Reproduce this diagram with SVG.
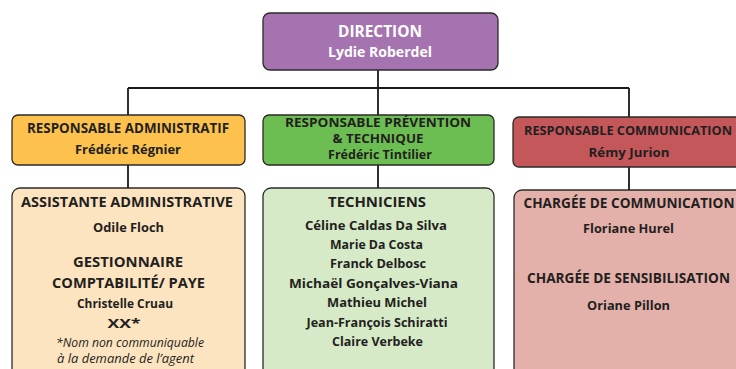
<svg xmlns="http://www.w3.org/2000/svg" width="736" height="369" viewBox="0 0 736 369">
<style>
.box{stroke:#2b2a29;stroke-width:1.3}
.conn{stroke:#1a1a1a;stroke-width:1.8;fill:none}
text{font-family:"Open Sans","Liberation Sans",sans-serif;font-weight:700;fill:#231f20;text-anchor:middle}
.w{fill:#ffffff}
.h{font-size:13.5px}
.s{font-size:12px}
.n{font-size:13px}
.g{font-size:15px}
.i{font-style:italic;font-weight:400;font-size:12px}
</style>
<rect width="736" height="369" fill="#ffffff"/>
<g id="connectors">
<path class="conn" d="M378 70V88M128 88H629M128 88V115M378 88V115M629 88V117M128 165V188M378 165V188M629 167V190"/>
</g>
<g id="direction">
<rect class="box" x="263" y="13" width="235" height="57" rx="7" fill="#a673b1"/>
<text class="w" x="380" y="37" font-size="16.5" textLength="84" lengthAdjust="spacingAndGlyphs">DIRECTION</text>
<text class="w" x="380" y="57" font-size="14" textLength="104" lengthAdjust="spacingAndGlyphs">Lydie Roberdel</text>
</g>
<g id="resp-admin">
<rect class="box" x="12" y="115" width="233" height="50" rx="6" fill="#fcc24d"/>
<text class="h" x="128" y="133" textLength="202" lengthAdjust="spacingAndGlyphs">RESPONSABLE ADMINISTRATIF</text>
<text class="n" x="128" y="154" textLength="106" lengthAdjust="spacingAndGlyphs">Frédéric Régnier</text>
</g>
<g id="resp-prevention">
<rect class="box" x="263" y="115" width="231" height="50" rx="6" fill="#6cbe52"/>
<text class="s" x="378" y="127" textLength="186" lengthAdjust="spacingAndGlyphs">RESPONSABLE PRÉVENTION</text>
<text class="s" x="378" y="143" textLength="91" lengthAdjust="spacingAndGlyphs">&amp; TECHNIQUE</text>
<text class="s" x="380" y="159" textLength="104" lengthAdjust="spacingAndGlyphs">Frédéric Tintilier</text>
</g>
<g id="resp-communication">
<rect class="box" x="513" y="117" width="240" height="50" rx="6" fill="#c3575a"/>
<text x="628" y="135" font-size="12.5" textLength="208" lengthAdjust="spacingAndGlyphs">RESPONSABLE COMMUNICATION</text>
<text class="n" x="629" y="157" textLength="81" lengthAdjust="spacingAndGlyphs">Rémy Jurion</text>
</g>
<g id="admin-staff">
<rect class="box" x="12" y="188" width="233" height="190" rx="8" fill="#fde4c0"/>
<text class="h" x="127" y="207" textLength="212" lengthAdjust="spacingAndGlyphs">ASSISTANTE ADMINISTRATIVE</text>
<text class="n" x="128.5" y="232" textLength="71" lengthAdjust="spacingAndGlyphs">Odile Floch</text>
<text class="g" x="128" y="267" textLength="110" lengthAdjust="spacingAndGlyphs">GESTIONNAIRE</text>
<text class="g" x="128.5" y="288" textLength="153" lengthAdjust="spacingAndGlyphs">COMPTABILITÉ/ PAYE</text>
<text class="n" x="125" y="308" textLength="96" lengthAdjust="spacingAndGlyphs">Christelle Cruau</text>
<text class="n" x="124" y="328" textLength="33" lengthAdjust="spacingAndGlyphs">XX*</text>
<text class="i" x="130" y="347" textLength="148" lengthAdjust="spacingAndGlyphs">*Nom non communiquable</text>
<text class="i" x="125.5" y="363" textLength="137" lengthAdjust="spacingAndGlyphs">à la demande de l’agent</text>
</g>
<g id="techniciens">
<rect class="box" x="263" y="188" width="231" height="190" rx="8" fill="#d6eac8"/>
<text class="h" x="377" y="207" textLength="98" lengthAdjust="spacingAndGlyphs">TECHNICIENS</text>
<text class="n" x="376" y="230" textLength="142" lengthAdjust="spacingAndGlyphs">Céline Caldas Da Silva</text>
<text class="n" x="376.5" y="249" textLength="93" lengthAdjust="spacingAndGlyphs">Marie Da Costa</text>
<text class="n" x="378" y="268" textLength="96" lengthAdjust="spacingAndGlyphs">Franck Delbosc</text>
<text class="n" x="373.5" y="288" textLength="169" lengthAdjust="spacingAndGlyphs">Michaël Gonçalves-Viana</text>
<text class="n" x="377" y="307" textLength="100" lengthAdjust="spacingAndGlyphs">Mathieu Michel</text>
<text class="n" x="377" y="327" textLength="141" lengthAdjust="spacingAndGlyphs">Jean-François Schiratti</text>
<text class="n" x="377.5" y="346" textLength="91" lengthAdjust="spacingAndGlyphs">Claire Verbeke</text>
</g>
<g id="communication-staff">
<rect class="box" x="514" y="190" width="240" height="190" rx="8" fill="#e3b1aa"/>
<text class="h" x="629" y="208" textLength="211" lengthAdjust="spacingAndGlyphs">CHARGÉE DE COMMUNICATION</text>
<text class="n" x="628.5" y="233" textLength="91" lengthAdjust="spacingAndGlyphs">Floriane Hurel</text>
<text class="h" x="628.5" y="283" textLength="203" lengthAdjust="spacingAndGlyphs">CHARGÉE DE SENSIBILISATION</text>
<text class="n" x="628.5" y="310" textLength="83" lengthAdjust="spacingAndGlyphs">Oriane Pillon</text>
</g>
</svg>
